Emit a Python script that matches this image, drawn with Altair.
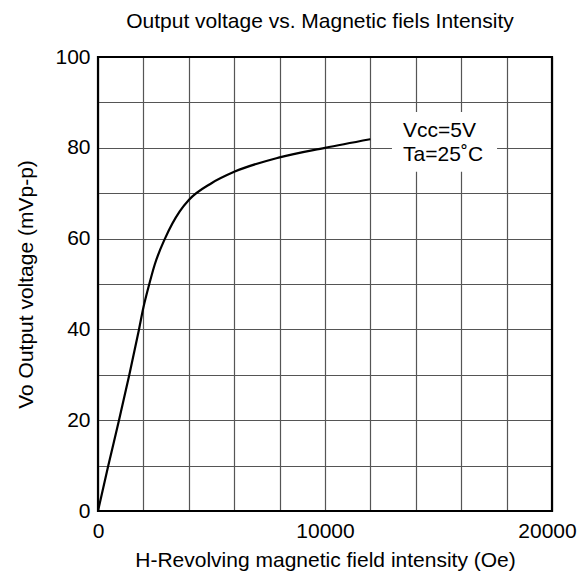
import altair as alt
import pandas as pd

# Curve data
h_field = [0, 454, 925, 1380, 1806, 2000, 2260, 2500, 2950, 3600, 4000, 5000, 6000, 8000, 10000, 12000]
vo_mv = [0, 10, 20, 30, 40, 44.8, 50, 54.3, 60, 66, 68.5, 72.2, 74.7, 77.9, 80, 81.9]

x_grid = list(range(0, 20001, 2000))
y_grid = list(range(0, 101, 10))

note_lines = ["Vcc=5V", "Ta=25˚C"]
note_x = [13440, 13440]
note_y = [83.7, 78.4]
box_x = [12950]
box_x2 = [17580]
box_y = [74.7]
box_y2 = [87.9]

FONT = "Liberation Sans"
FS = 21
W, H = 454, 454

curve_df = pd.DataFrame({"H": h_field, "Vo": vo_mv})
note_df = pd.DataFrame({"t": note_lines, "x": note_x, "y": note_y})
box_df = pd.DataFrame({"x": box_x, "x2": box_x2, "y": box_y, "y2": box_y2})

xscale = alt.Scale(domain=[0, 20000], nice=False, zero=False)
yscale = alt.Scale(domain=[0, 100], nice=False, zero=False)

xaxis = alt.Axis(
    values=x_grid,
    labelExpr="datum.value % 10000 == 0 ? datum.label : ''",
    format="d",
    grid=True, gridColor="#555555", gridWidth=1.2,
    domain=False, ticks=False, labelPadding=9,
    labelOffset={"condition": {"test": "datum.value == 20000", "value": -5}, "value": 0},
    labelFontSize=FS, labelFont=FONT, labelColor="#000",
    title="H-Revolving magnetic field intensity (Oe)",
    titleFontSize=FS, titleFont=FONT, titleFontWeight="normal",
    titleColor="#000", titlePadding=8,
    labelFlush=False, labelOverlap=False,
)
yaxis = alt.Axis(
    values=y_grid,
    labelExpr="datum.value % 20 == 0 ? datum.label : ''",
    grid=True, gridColor="#555555", gridWidth=1.2,
    domain=False, ticks=False, labelPadding=8,
    labelFontSize=FS, labelFont=FONT, labelColor="#000",
    title="Vo Output voltage (mVp-p)",
    titleFontSize=FS, titleFont=FONT, titleFontWeight="normal",
    titleColor="#000", titlePadding=18,
    labelFlush=False, labelOverlap=False,
)

line = alt.Chart(curve_df).mark_line(
    color="black", strokeWidth=2.2, interpolate="monotone", clip=True
).encode(
    x=alt.X("H:Q", scale=xscale, axis=xaxis),
    y=alt.Y("Vo:Q", scale=yscale, axis=yaxis),
)

box = alt.Chart(box_df).mark_rect(fill="white", stroke=None).encode(
    x=alt.X("x:Q", scale=xscale), x2="x2:Q",
    y=alt.Y("y:Q", scale=yscale), y2="y2:Q",
)

notes = alt.Chart(note_df).mark_text(
    align="left", baseline="middle", font=FONT, fontSize=FS, color="black"
).encode(
    x=alt.X("x:Q", scale=xscale),
    y=alt.Y("y:Q", scale=yscale),
    text="t:N",
)

frame = alt.Chart(box_df).mark_rect(
    filled=False, stroke="black", strokeWidth=2.2
).encode(
    x=alt.value(0), x2=alt.value(W), y=alt.value(0), y2=alt.value(H)
)

chart = alt.layer(box, line, notes, frame).properties(
    width=W, height=H,
    title=alt.TitleParams(
        "Output voltage vs. Magnetic fiels Intensity",
        font=FONT, fontSize=FS, fontWeight="normal", color="#000",
        offset=14, anchor="middle", dx=-5,
    ),
    autosize=alt.AutoSizeParams(type="none"),
    padding={"left": 90, "top": 49, "right": 25, "bottom": 60},
).configure_view(stroke=None).configure(background="white")

chart.save("out.html", embed_options={"renderer": "svg", "actions": False})
